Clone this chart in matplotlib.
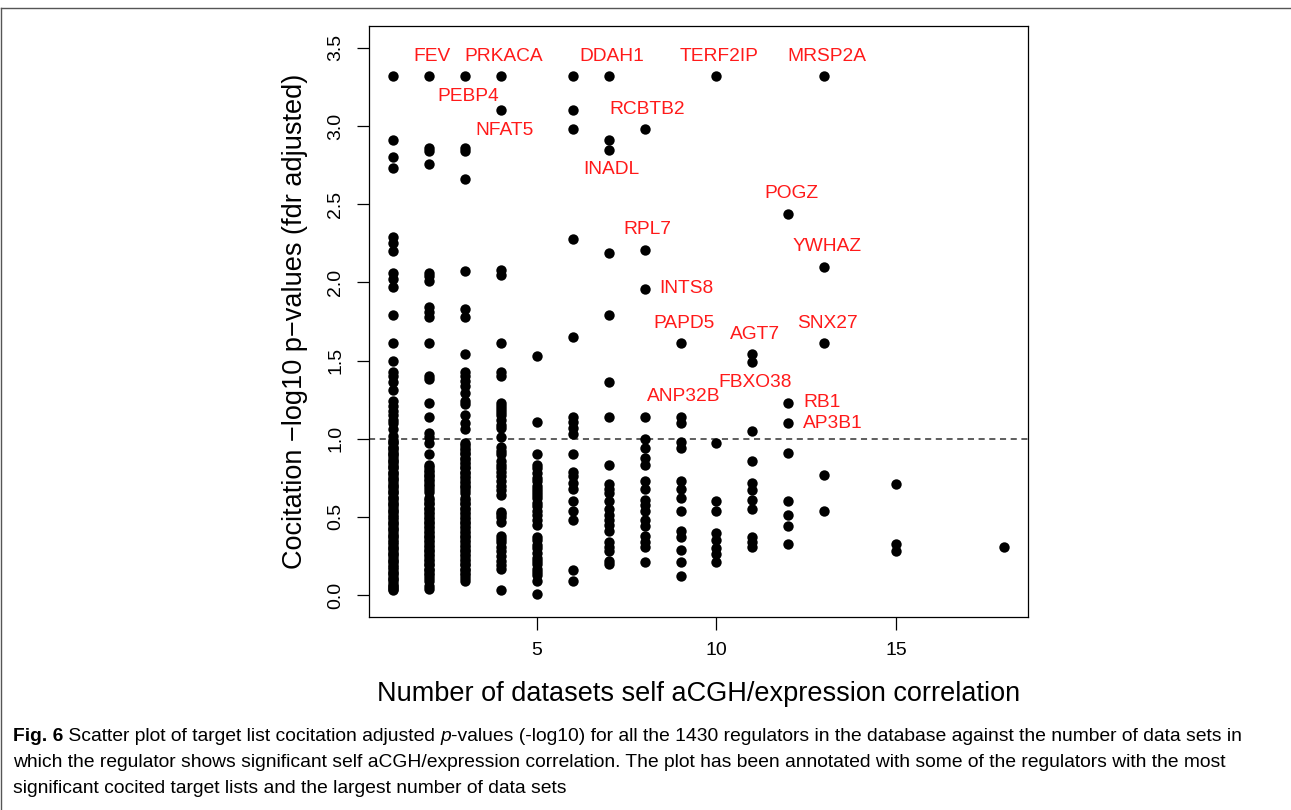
import numpy as np
import matplotlib
matplotlib.use("Agg")
import matplotlib.pyplot as plt
from matplotlib.lines import Line2D

plt.rcParams['font.family'] = ['Liberation Sans', 'DejaVu Sans']

# Number of datasets with significant self aCGH/expression correlation
n_datasets = [1, 2, 3, 4, 5, 6, 7, 8, 9, 10, 11, 12, 13, 15, 18]

# -log10 adjusted cocitation p-values, one list per dataset count
y_n1 = [3.32, 2.91, 2.80, 2.73, 2.29, 2.25, 2.20, 2.06, 2.02, 1.97, 1.79, 1.61,
        1.50, 1.43, 1.40, 1.36, 1.31, 1.24, 1.21, 1.18, 1.15, 1.12, 1.10, 1.06,
        1.02, 0.99, 0.98, 0.97, 0.95, 0.94, 0.93, 0.91, 0.90, 0.89, 0.87, 0.86,
        0.85, 0.83, 0.82, 0.81, 0.79, 0.78, 0.77, 0.75, 0.74, 0.73, 0.71, 0.70,
        0.69, 0.67, 0.66, 0.65, 0.63, 0.62, 0.61, 0.59, 0.58, 0.57, 0.55, 0.54,
        0.53, 0.51, 0.50, 0.49, 0.47, 0.46, 0.45, 0.43, 0.42, 0.41, 0.39, 0.38,
        0.37, 0.35, 0.34, 0.33, 0.31, 0.30, 0.29, 0.27, 0.26, 0.25, 0.23, 0.22,
        0.21, 0.19, 0.18, 0.17, 0.15, 0.14, 0.13, 0.11, 0.10, 0.09, 0.07, 0.06,
        0.05, 0.04, 0.03]
y_n2 = [3.32, 2.86, 2.84, 2.76, 2.06, 2.04, 2.01, 1.84, 1.81, 1.78, 1.61, 1.40,
        1.38, 1.23, 1.14, 1.04, 1.01, 0.97, 0.90, 0.83, 0.82, 0.80, 0.79, 0.77,
        0.76, 0.74, 0.73, 0.71, 0.70, 0.68, 0.66, 0.62, 0.61, 0.59, 0.58, 0.56,
        0.55, 0.53, 0.52, 0.50, 0.49, 0.47, 0.46, 0.44, 0.43, 0.41, 0.40, 0.38,
        0.37, 0.35, 0.34, 0.32, 0.31, 0.29, 0.28, 0.26, 0.25, 0.23, 0.22, 0.20,
        0.19, 0.17, 0.16, 0.14, 0.13, 0.11, 0.09, 0.06, 0.04]
y_n3 = [3.32, 2.86, 2.84, 2.66, 2.07, 1.83, 1.78, 1.54, 1.43, 1.40, 1.37, 1.34,
        1.29, 1.24, 1.22, 1.15, 1.10, 1.06, 0.97, 0.96, 0.94, 0.93, 0.91, 0.90,
        0.88, 0.87, 0.85, 0.84, 0.82, 0.81, 0.79, 0.78, 0.76, 0.75, 0.73, 0.72,
        0.70, 0.69, 0.67, 0.65, 0.62, 0.61, 0.59, 0.58, 0.56, 0.55, 0.53, 0.52,
        0.50, 0.49, 0.47, 0.46, 0.44, 0.43, 0.41, 0.40, 0.38, 0.37, 0.35, 0.34,
        0.32, 0.31, 0.29, 0.28, 0.26, 0.25, 0.23, 0.22, 0.20, 0.19, 0.17, 0.16,
        0.14, 0.13, 0.11, 0.09]
y_n4 = [3.32, 3.10, 2.08, 2.05, 1.61, 1.43, 1.40, 1.23, 1.21, 1.19, 1.17, 1.15,
        1.12, 1.09, 1.07, 1.01, 0.95, 0.92, 0.90, 0.86, 0.83, 0.81, 0.79, 0.76,
        0.73, 0.70, 0.67, 0.64, 0.53, 0.52, 0.50, 0.47, 0.38, 0.36, 0.34, 0.31,
        0.28, 0.25, 0.22, 0.19, 0.17, 0.03]
y_n5 = [1.53, 1.11, 0.90, 0.83, 0.81, 0.78, 0.75, 0.73, 0.70, 0.68, 0.66, 0.64,
        0.62, 0.59, 0.57, 0.54, 0.51, 0.48, 0.45, 0.37, 0.35, 0.32, 0.30, 0.27,
        0.24, 0.22, 0.20, 0.17, 0.15, 0.13, 0.09, 0.01]
y_n6 = [3.32, 3.10, 2.98, 2.28, 1.65, 1.14, 1.11, 1.07, 1.03, 0.90, 0.79, 0.76,
        0.72, 0.68, 0.60, 0.54, 0.48, 0.16, 0.09]
y_n7 = [3.32, 2.91, 2.85, 2.19, 1.79, 1.36, 1.14, 0.83, 0.71, 0.68, 0.65, 0.60,
        0.55, 0.51, 0.48, 0.45, 0.41, 0.34, 0.31, 0.28, 0.22, 0.20]
y_n8 = [2.98, 2.21, 1.96, 1.14, 1.00, 0.94, 0.88, 0.83, 0.73, 0.68, 0.61, 0.575,
        0.54, 0.48, 0.44, 0.38, 0.34, 0.31, 0.21]
y_n9 = [1.61, 1.14, 1.10, 0.98, 0.94, 0.73, 0.68, 0.62, 0.54, 0.41, 0.37, 0.29,
        0.21, 0.12]
y_n10 = [3.32, 0.97, 0.60, 0.54, 0.40, 0.35, 0.30, 0.26, 0.21]
y_n11 = [1.54, 1.49, 1.05, 0.86, 0.72, 0.67, 0.61, 0.55, 0.37, 0.34, 0.31]
y_n12 = [2.44, 1.23, 1.10, 0.91, 0.60, 0.51, 0.44, 0.33]
y_n13 = [3.32, 2.10, 1.61, 0.77, 0.54]
y_n15 = [0.71, 0.33, 0.28]
y_n18 = [0.31]

cocitation = [y_n1, y_n2, y_n3, y_n4, y_n5, y_n6, y_n7, y_n8, y_n9, y_n10,
              y_n11, y_n12, y_n13, y_n15, y_n18]

# Annotated regulators: name, dataset count, cocitation value
gene_names = ["FEV", "PRKACA", "DDAH1", "TERF2IP", "MRSP2A", "PEBP4", "NFAT5",
              "RCBTB2", "INADL", "POGZ", "RPL7", "YWHAZ", "INTS8", "PAPD5",
              "SNX27", "AGT7", "FBXO38", "ANP32B", "RB1", "AP3B1"]
gene_x = [2, 4, 7, 10, 13, 3, 4, 8, 7, 12, 8, 13, 8, 9, 13, 11, 11, 9, 12, 12]
gene_y = [3.32, 3.32, 3.32, 3.32, 3.32, 3.32, 3.10, 2.98, 2.85, 2.44, 2.21,
          2.10, 1.96, 1.61, 1.61, 1.54, 1.49, 1.14, 1.23, 1.10]
label_side = ["above", "above", "above", "above", "above", "below", "below",
              "above", "below", "above", "above", "above", "right", "above",
              "above", "above", "below", "above", "right", "right"]

W, H = 1291, 810
fig = plt.figure(figsize=(W / 100, H / 100), dpi=100)
ax = fig.add_axes([369 / W, (H - 617) / H, (1028 - 369) / W, (617 - 26) / H])

for n, ys in zip(n_datasets, cocitation):
    ax.scatter([n] * len(ys), ys, s=56, c="black", linewidths=0, zorder=3)

ax.axhline(1.0, color="#333333", lw=1.1, ls=(0, (4, 3)), zorder=2)

offsets = {"above": (3, 20, "center"), "below": (3, -20, "center"),
           "right": (15, 0, "left")}
for name, gx, gy, side in zip(gene_names, gene_x, gene_y, label_side):
    dx, dy, ha = offsets[side]
    ax.annotate(name, (gx, gy), xytext=(dx, dy), textcoords="offset pixels",
                ha=ha, va="center", color="#ff1a1a", fontsize=13.8)

ax.set_xlim(0.32, 18.68)
ax.set_ylim(-0.14, 3.64)
ax.set_xticks([5, 10, 15])
yt = np.arange(0, 3.51, 0.5)
ax.set_yticks(yt)
ax.set_yticklabels([f"{v:.1f}" for v in yt], rotation=90, va="center")
ax.tick_params(direction="out", length=9, width=0.9, labelsize=14,
               colors="black", pad=9)
for sp in ax.spines.values():
    sp.set_linewidth(0.9)

ax.set_xlabel("Number of datasets self aCGH/expression correlation",
              fontsize=19.5, labelpad=16)
ax.set_ylabel("Cocitation \u2212log10 p\u2212values (fdr adjusted)",
              fontsize=19.5, labelpad=14)

# figure frame
fig.add_artist(Line2D([1 / W, 1], [1 - 8 / H, 1 - 8 / H], color="#555555",
                      lw=1.0, transform=fig.transFigure))
fig.add_artist(Line2D([1 / W, 1 / W], [0, 1 - 8 / H], color="#555555",
                      lw=1.0, transform=fig.transFigure))

# caption: bold figure number, italic p, then plain text
cap_size = 13.9
t0 = fig.text(13 / W, 1 - 741 / H, "Fig. 6", fontsize=cap_size,
              fontweight="bold", va="baseline")
t1 = plt.annotate(" Scatter plot of target list cocitation adjusted ",
                  xy=(1, 0), xycoords=t0, va="bottom", ha="left",
                  fontsize=cap_size, annotation_clip=False)
t2 = plt.annotate("p", xy=(1, 0), xycoords=t1, va="bottom", ha="left",
                  fontsize=cap_size, style="italic", annotation_clip=False)
plt.annotate("-values (-log10) for all the 1430 regulators in the database "
             "against the number of data sets in",
             xy=(1, 0), xycoords=t2, va="bottom", ha="left",
             fontsize=cap_size, annotation_clip=False)
fig.text(13 / W, 1 - 767 / H,
         "which the regulator shows significant self aCGH/expression "
         "correlation. The plot has been annotated with some of the "
         "regulators with the most",
         fontsize=cap_size, va="baseline")
fig.text(13 / W, 1 - 793 / H,
         "significant cocited target lists and the largest number of data sets",
         fontsize=cap_size, va="baseline")

fig.savefig("out.png", dpi=100)
